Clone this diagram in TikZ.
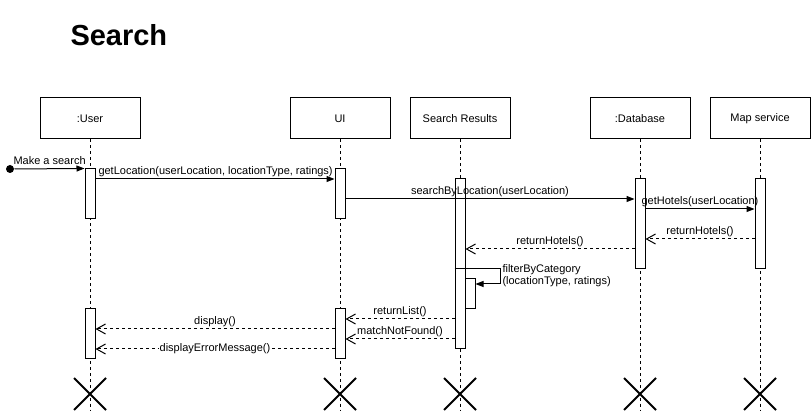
\documentclass[tikz,border=0pt]{standalone}
\usepackage{fontspec}
\setmainfont{Liberation Sans}
\usetikzlibrary{arrows.meta, shapes.misc, positioning}
\tikzset{
    seqdiag/.style={
        x=1pt, y=-1pt,
        font=\fontsize{11}{12.5}\selectfont,
        line width=1pt,
        lifehead/.style={draw, rectangle, minimum width=100pt, minimum height=41pt, inner sep=0pt},
        lifeline/.style={dash pattern=on 3pt off 3pt},
        act/.style={draw, fill=white, rectangle, minimum width=10pt, minimum height=##1, inner sep=0pt},
        endmark/.style={draw, cross out, minimum size=30pt, inner sep=0pt, line width=2pt},
        msgcall/.style={-{Triangle[length=8pt, width=6pt]}},
        msgreturn/.style={dash pattern=on 3pt off 3pt, -{Straight Barb[length=9pt, width=10pt]}},
        msglbl/.style={anchor=base, inner sep=0pt, yshift=4.5pt}
    }
}

\begin{document}
\begin{tikzpicture}[seqdiag]
        \useasboundingbox (0,0) rectangle (811,411);

        % Title
        \node[font=\fontsize{29}{34}\selectfont\bfseries, anchor=base west, inner sep=0pt] (title) at (70,46) {Search};

        % Lifeline heads
        \node[lifehead] (user) at (90,118.5) {:User};
        \node[lifehead] (ui) at (340,118.5) {UI};
        \node[lifehead] (sr) at (460,118.5) {Search Results};
        \node[lifehead] (db) at (640,118.5) {:Database};
        \node[lifehead] (map) at (760,118.5) {Map service};

        % Lifelines and destruction marks
        \foreach \n in {user,ui,sr,db,map} {
            \draw[lifeline] (\n.south) -- (\n |- 0,411);
            \node[endmark] (\n-x) at (\n |- 0,394) {};
        }

        % Activations
        \node[act=50pt] (user-a1) at (90,194) {};
        \node[act=50pt] (user-a2) at (90,334) {};
        \node[act=50pt] (ui-a1) at (340,194) {};
        \node[act=50pt] (ui-a2) at (340,334) {};
        \node[act=170pt] (sr-a1) at (460,264) {};
        \node[act=30pt] (sr-a2) at (470,294) {};
        \node[act=90pt] (db-a1) at (640,224) {};
        \node[act=90pt] (map-a1) at (760,224) {};

        % Found message
        \node[circle, fill, inner sep=0pt, minimum size=8pt] (start) at (10,169) {};
        \draw[msgcall] (start) -- (user-a1.north west);
        \node[anchor=base west, inner sep=0pt] (start-lbl) at (13,165) {Make a search};

        % Calls
        \draw[msgcall] (user-a1.east |- 0,179) -- (ui-a1.west |- 0,179);
        \node[anchor=base west, inner sep=0pt] (getloc-lbl) at (98,175) {getLocation(userLocation, locationType, ratings)};
        \draw[msgcall] (ui-a1.east |- 0,199) -- (db-a1.west |- 0,199)
            node[midway, msglbl] (search-lbl) {searchByLocation(userLocation)};
        \draw[msgcall] (db-a1.east |- 0,209) -- (map-a1.west |- 0,209)
            node[midway, msglbl] (hotels-lbl) {getHotels(userLocation)};

        % Returns
        \draw[msgreturn] (map-a1.west |- 0,239) -- (db-a1.east |- 0,239)
            node[midway, msglbl] (ret1-lbl) {returnHotels()};
        \draw[msgreturn] (db-a1.west |- 0,249) -- (sr-a1.east |- 0,249)
            node[midway, msglbl] (ret2-lbl) {returnHotels()};

        % Self call
        \draw[msgcall] (sr-a1.west |- 0,269) -- (500,269) -- (500,284) -- (sr-a2.east |- 0,284);
        \node[anchor=north west, align=left, inner sep=0pt] (filter-lbl) at (502,264) {filterByCategory\\(locationType, ratings)};

        \draw[msgreturn] (sr-a1.west |- 0,319) -- (ui-a2.east |- 0,319)
            node[midway, msglbl] (list-lbl) {returnList()};
        \draw[msgreturn] (sr-a1.west |- 0,339) -- (ui-a2.east |- 0,339)
            node[midway, msglbl] (nf-lbl) {matchNotFound()};
        \draw[msgreturn] (ui-a2.west |- 0,329) -- (user-a2.east |- 0,329)
            node[midway, msglbl] (disp-lbl) {display()};
        \draw[msgreturn] (ui-a2.west |- 0,349) -- (user-a2.east |- 0,349)
            node[midway, fill=white, inner sep=1pt] (err-lbl) {displayErrorMessage()};

    \end{tikzpicture}
\end{document}
